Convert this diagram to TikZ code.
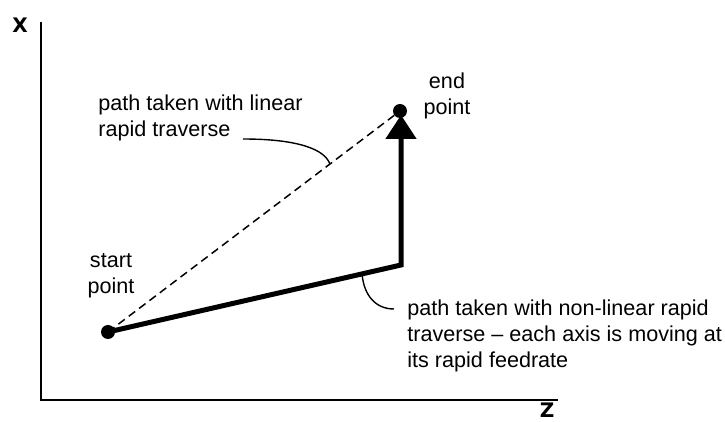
\documentclass[tikz,border=0pt]{standalone}
\usepackage{fontspec}
\setmainfont{Liberation Sans}
\newfontfamily\axisfont{DejaVu Sans}
\usetikzlibrary{arrows.meta,positioning,calc}

\begin{document}
\begin{tikzpicture}[x=0.5pt,y=-0.5pt,
    lbl/.style={font=\fontsize{10.8}{13.2}\selectfont,inner sep=0pt},
    axlbl/.style={font=\axisfont\bfseries\fontsize{10}{12}\selectfont,inner sep=0pt},
    dot/.style={circle,fill,inner sep=0pt,minimum size=7pt},
    callout/.style={line width=0.7pt}]
    \useasboundingbox (0,0) rectangle (725,422);
    % axes
    \coordinate (xtop) at (41,22);
    \coordinate (orig) at (41,400);
    \coordinate (zend) at (558,400);
    \draw[line width=0.9pt] (xtop) -- (orig) -- (zend);
    \node[axlbl] (xlbl) at (20,25) {X};
    \node[axlbl] (zlbl) at (547,410) {Z};
    % start and end points
    \node[dot] (start) at (108,332) {};
    \node[dot] (finish) at (400,111) {};
    \coordinate (corner) at (401,265);
    \coordinate (tip) at (401,115);
    \node[lbl,align=center] (startlbl) at (111,276) {start\\point};
    \node[lbl,align=center] (finishlbl) at (447,96) {end\\point};
    % linear rapid traverse (dashed)
    \draw[line width=0.75pt,dash pattern=on 4pt off 2.5pt] (start.center) -- (finish.center);
    % non-linear rapid traverse (thick)
    \draw[line width=2.5pt,line join=miter,-{Triangle[width=15pt,length=12pt]}]
      (start.center) -- (corner) -- (tip);
    % callouts
    \node[lbl,align=left,anchor=north west] (linlbl) at (98,94)
      {path taken with linear\\rapid traverse};
    \coordinate (linfree) at (243,139);
    \coordinate (linhit) at ($(start)!0.76!(finish)$);
    \draw[callout] (linfree) .. controls (300,139) and (325,150) .. (linhit);
    \node[lbl,align=left,anchor=north west] (nonlbl) at (407,299)
      {path taken with non-linear rapid\\traverse -- each axis is moving at\\its rapid feedrate};
    \coordinate (nonhit) at ($(start)!0.867!(corner)$);
    \coordinate (nonfree) at (394,309);
    \draw[callout] (nonhit) .. controls (364,296) and (376,309) .. (nonfree);
\end{tikzpicture}
\end{document}
